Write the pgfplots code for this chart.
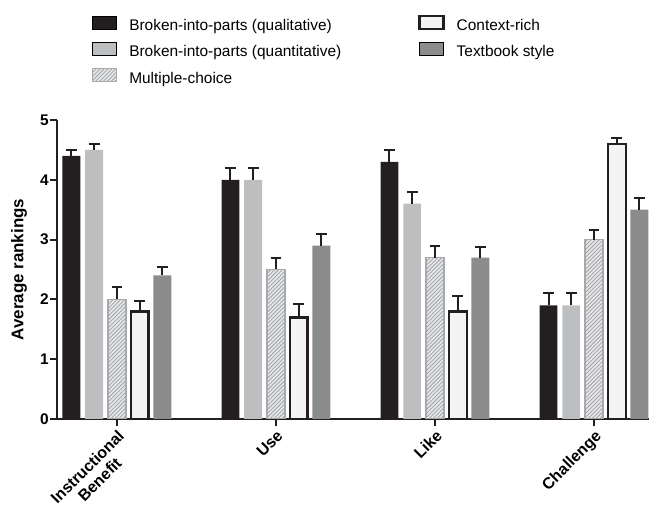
\documentclass[border=0pt]{standalone}
\usepackage{fontspec}
\setmainfont{Liberation Sans}
\usepackage{pgfplots}
\pgfplotsset{compat=1.18}
\definecolor{cqual}{HTML}{231F20}
\definecolor{cquant}{HTML}{BCBEC0}
\definecolor{cmcbg}{HTML}{E6E7E8}
\definecolor{cmcline}{HTML}{9FA1A3}
\definecolor{cmcedge}{HTML}{A7A9AC}
\definecolor{ctb}{HTML}{8A8C8E}
\definecolor{cctx}{HTML}{F4F4F4}
\tikzset{
 qual/.style={fill=cqual, draw=none},
 quant/.style={fill=cquant, draw=none},
 mc/.style={fill=cmcbg, draw=cmcedge, line width=1.3bp,
   path picture={\foreach \k in {0,3.9,...,340}{\draw[path picture={}, draw=cmcline, line width=0.75bp] ([yshift=\k bp-30bp]path picture bounding box.south west) -- ++(40bp,40bp);}}},
 ctx/.style={fill=cctx, draw=cqual, line width=2.4bp},
 tb/.style={fill=ctb, draw=none},
}
\pgfplotsset{
 mybar/.style={ybar, bar width=0.113, bar shift=0, forget plot,
   error bars/y dir=plus, error bars/y explicit,
   error bars/error bar style={line width=2bp, draw=cqual, solid, fill=none, path picture={}},
   error bars/error mark options={rotate=90, line width=2bp, draw=cqual, mark size=5.3bp, solid, fill=none, path picture={}}},
}
\begin{document}
\begin{tikzpicture}
\begin{axis}[
 at={(57bp,89bp)}, anchor=south west,
 scale only axis, width=592bp, height=299bp,
 xmin=-0.377, xmax=3.346, ymin=0, ymax=5,
 axis x line=bottom, axis y line=left,
 axis line style={-, line width=2bp, draw=cqual},
 xtick={0,1,2,3},
 xticklabels={{Instructional\\Benefit},Use,Like,Challenge},
 ytick={0,1,2,3,4,5},
 tick align=outside, major tick length=7bp,
 tick style={line width=2bp, draw=cqual},
 /pgf/number format/assume math mode=true,
 x tick label style={font=\bfseries\fontsize{16}{17.5}\selectfont, rotate=45, anchor=north east, align=center, inner sep=2bp},
 y tick label style={font=\bfseries\fontsize{15.5}{17}\selectfont, inner sep=1bp},
 ylabel={Average rankings},
 ylabel style={font=\bfseries\fontsize{17}{17}\selectfont, at={(axis description cs:-0.064,0.5)}, anchor=center},
 legend columns=2,
 legend cell align=left,
 legend image code/.code={\draw[#1] (0bp,-2bp) rectangle (24bp,11bp);},
 legend style={at={(0.0591,1.3528)}, anchor=north west, draw=none, fill=none,
   inner sep=0pt, outer sep=0pt, column sep=12bp, row sep=7.5bp,
   font=\fontsize{15.5}{17}\selectfont,
   nodes={inner sep=0pt, text height=11.5bp, text depth=3.5bp},
   /tikz/every even column/.append style={column sep=77bp}},
]
% Broken-into-parts (qualitative)
\addplot[mybar, qual] coordinates {(-0.286,4.4) +- (0,0.1) (0.714,4.0) +- (0,0.2) (1.714,4.3) +- (0,0.2) (2.714,1.9) +- (0,0.2)};
% Broken-into-parts (quantitative)
\addplot[mybar, quant] coordinates {(-0.143,4.5) +- (0,0.1) (0.857,4.0) +- (0,0.2) (1.857,3.6) +- (0,0.2) (2.857,1.9) +- (0,0.2)};
% Multiple-choice (one bar per plot so the hatching fills each bar)
\addplot[mybar, mc] coordinates {(0,2.0) +- (0,0.2)};
\addplot[mybar, mc] coordinates {(1,2.5) +- (0,0.2)};
\addplot[mybar, mc] coordinates {(2,2.7) +- (0,0.2)};
\addplot[mybar, mc] coordinates {(3,3.0) +- (0,0.16)};
% Context-rich
\addplot[mybar, ctx] coordinates {(0.143,1.8) +- (0,0.18) (1.143,1.7) +- (0,0.22) (2.143,1.8) +- (0,0.25) (3.143,4.6) +- (0,0.1)};
% Textbook style
\addplot[mybar, tb] coordinates {(0.286,2.4) +- (0,0.15) (1.286,2.9) +- (0,0.2) (2.286,2.7) +- (0,0.17) (3.286,3.5) +- (0,0.2)};
\addlegendimage{qual}
\addlegendentry{Broken-into-parts (qualitative)}
\addlegendimage{ctx}
\addlegendentry{Context-rich}
\addlegendimage{quant}
\addlegendentry{Broken-into-parts (quantitative)}
\addlegendimage{tb}
\addlegendentry{Textbook style}
\addlegendimage{mc, draw=none}
\addlegendentry{Multiple-choice}
\end{axis}
\pgfresetboundingbox
\useasboundingbox (0,0) rectangle (649bp,508bp);
\end{tikzpicture}
\end{document}
